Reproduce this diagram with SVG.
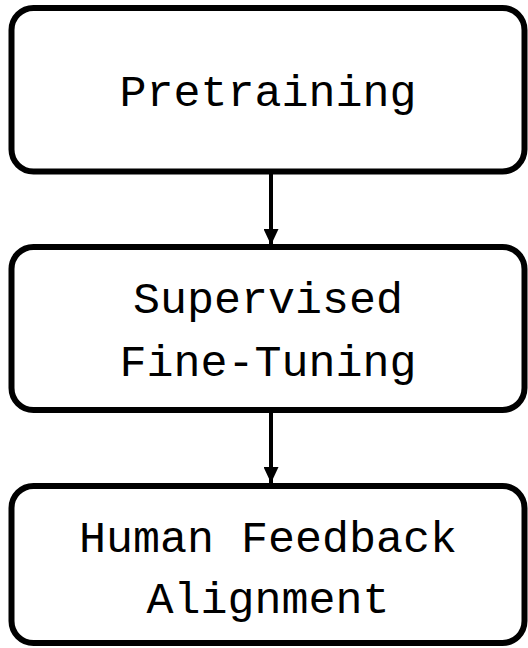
<svg xmlns="http://www.w3.org/2000/svg" width="528" height="648" viewBox="0 0 528 648">
<style>
.box{fill:#fff;stroke:#000;stroke-width:6}
.lbl{font-family:"Liberation Mono","DejaVu Sans Mono",monospace;font-size:45px;fill:#000;text-anchor:middle}
.edge{stroke:#000;stroke-width:4;fill:none}
</style>
<defs>
<marker id="ah" viewBox="0 0 16 15" refX="16" refY="7.5" markerUnits="userSpaceOnUse" markerWidth="16" markerHeight="15" orient="auto">
<path d="M0,0 L16,7.5 L0,15 Z" fill="#000"/>
</marker>
</defs>
<rect width="528" height="648" fill="#fff"/>
<g id="connectors">
<line class="edge" x1="271" y1="174" x2="271" y2="245" marker-end="url(#ah)"/>
<line class="edge" x1="271" y1="413" x2="271" y2="483" marker-end="url(#ah)"/>
</g>
<g id="pretraining">
<rect class="box" x="11.5" y="8" width="513" height="163.5" rx="22" ry="22"/>
<text class="lbl" x="268" y="106">Pretraining</text>
</g>
<g id="sft">
<rect class="box" x="11.5" y="247" width="513" height="163" rx="22" ry="22"/>
<text class="lbl" x="268" y="313">Supervised</text>
<text class="lbl" x="268" y="376">Fine-Tuning</text>
</g>
<g id="rlhf">
<rect class="box" x="11.5" y="486" width="513" height="157" rx="22" ry="22"/>
<text class="lbl" x="268" y="552">Human Feedback</text>
<text class="lbl" x="268" y="613">Alignment</text>
</g>
</svg>
